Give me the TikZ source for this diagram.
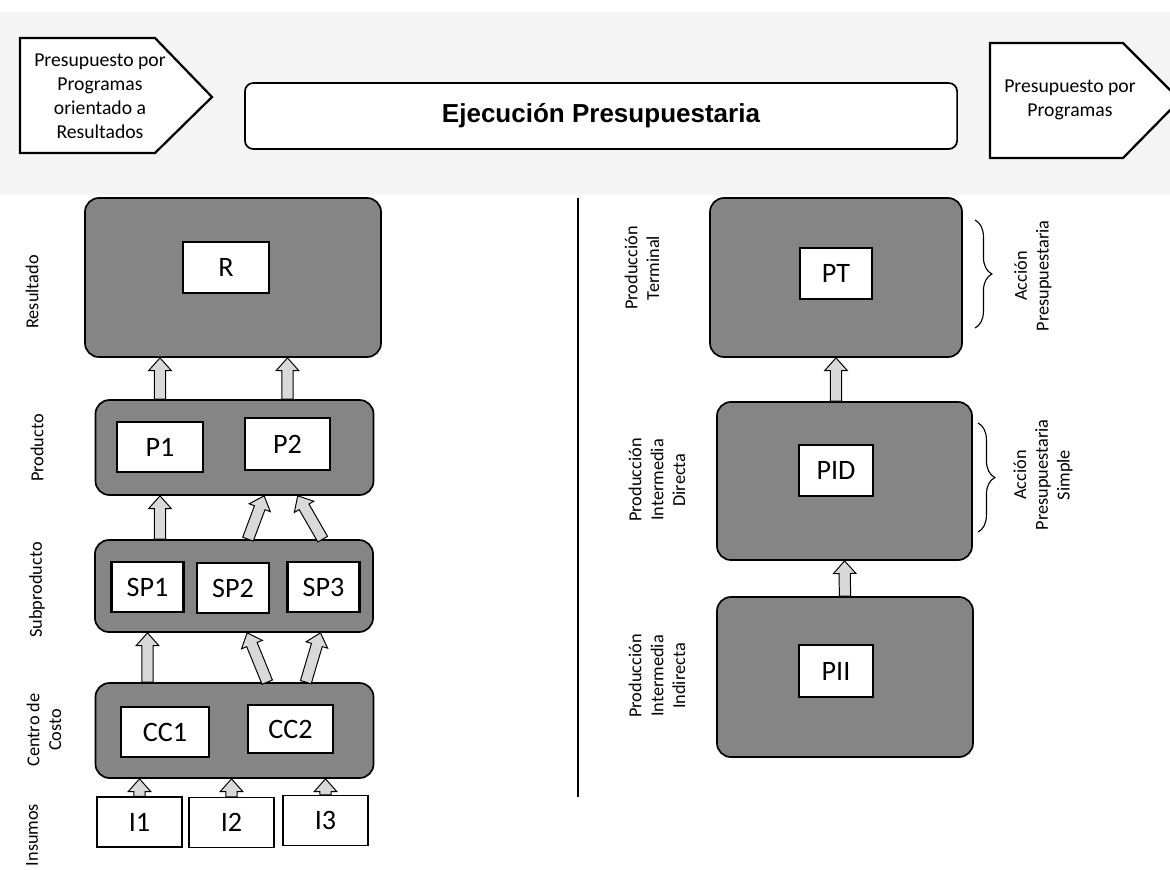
\documentclass[tikz,border=0pt]{standalone}
\usepackage{fontspec}
\setmainfont{Carlito}
\newfontfamily\titlefont{Liberation Sans}
\usetikzlibrary{positioning,calc,decorations.pathreplacing}
\tikzset{
  group/.style={draw, line width=1.2pt, fill=black!48, rounded corners=10pt, inner sep=0pt},
  item/.style={draw, line width=1.8pt, fill=white, inner sep=0pt, font=\fontsize{20}{24}\selectfont},
  input/.style={item, line width=1pt},
  side/.style={rotate=90, align=center, font=\fontsize{13}{15.5}\selectfont},
  penta/.style={draw, line width=1.6pt, fill=white, line join=miter},
  pentatext/.style={align=center, font=\fontsize{14}{17}\selectfont},
  titlebox/.style={draw, line width=1.2pt, fill=white, rounded corners=6pt,
    font=\titlefont\bfseries\fontsize{18.5}{22}\selectfont},
  fat/.style={draw=black, line width=0.7pt, fill=black!15, line join=miter,
    to path={($(\tikztostart)!4pt!90:(\tikztotarget)$)
      -- ($(\tikztotarget)!9pt!(\tikztostart)!4pt!90:(\tikztotarget)$)
      -- ($(\tikztotarget)!9pt!(\tikztostart)!8pt!90:(\tikztotarget)$)
      -- (\tikztotarget)
      -- ($(\tikztotarget)!9pt!(\tikztostart)!8pt!-90:(\tikztotarget)$)
      -- ($(\tikztotarget)!9pt!(\tikztostart)!4pt!-90:(\tikztotarget)$)
      -- ($(\tikztostart)!4pt!-90:(\tikztotarget)$) -- cycle}},
  brc/.style={decorate, decoration={brace, amplitude=12pt}, line width=0.8pt}
}
\begin{document}
\begin{tikzpicture}[x=0.025cm, y=-0.025cm]
\useasboundingbox (0,0) rectangle (1170,869);
\fill[black!4] (0,12) rectangle (1170,195);

\draw[penta] (20,38) -- (155,38) -- (212,97) -- (155,153) -- (20,153) -- cycle;
\node[pentatext] (ppr) at (100,96) {Presupuesto por\\Programas\\orientado a\\Resultados};
\node[titlebox, minimum width=17.8cm, minimum height=1.65cm] (ejec) at (601,116) {Ejecución Presupuestaria};
\draw[penta] (990,43) -- (1123,43) -- (1180,100) -- (1123,158) -- (990,158) -- cycle;
\node[pentatext] (pp) at (1070,100) {Presupuesto por\\Programas};

\node[group, minimum width=7.4cm, minimum height=3.975cm] (res) at (233,277.5) {};
\node[group, minimum width=6.95cm, minimum height=2.375cm] (prod) at (234.5,447.5) {};
\node[group, minimum width=6.95cm, minimum height=2.3cm] (sub) at (234,586) {};
\node[group, minimum width=6.95cm, minimum height=2.375cm] (cc) at (234.5,730.5) {};

\node[item, minimum width=2.15cm, minimum height=1.275cm] (R) at (226,267.5) {R};
\node[item, minimum width=2.15cm, minimum height=1.25cm] (P1) at (160,447) {P1};
\node[item, minimum width=2.125cm, minimum height=1.3cm] (P2) at (287.5,444) {P2};
\node[item, minimum width=1.8cm, minimum height=1.25cm] (SP1) at (147.5,587) {SP1};
\node[item, minimum width=1.8cm, minimum height=1.25cm] (SP2) at (233,588) {SP2};
\node[item, minimum width=1.8cm, minimum height=1.25cm] (SP3) at (323.5,587) {SP3};
\node[item, minimum width=2.2cm, minimum height=1.25cm] (CC1) at (165,732) {CC1};
\node[item, minimum width=2.125cm, minimum height=1.2cm] (CC2) at (290.5,729) {CC2};
\node[input, minimum width=2.125cm, minimum height=1.25cm] (I1) at (139.5,822) {I1};
\node[input, minimum width=2.125cm, minimum height=1.25cm] (I2) at (231.5,822.5) {I2};
\node[input, minimum width=2.125cm, minimum height=1.25cm] (I3) at (325.5,820.5) {I3};

\coordinate (sp2a) at ($(sub.north west)!.55!(sub.north east)$);
\coordinate (sp2b) at ($(prod.south west)!.606!(prod.south east)$);
\coordinate (sp3a) at ($(sub.north west)!.817!(sub.north east)$);
\coordinate (sp3b) at ($(prod.south west)!.726!(prod.south east)$);
\coordinate (cc2a) at ($(cc.north west)!.617!(cc.north east)$);
\coordinate (cc2b) at ($(sub.south west)!.547!(sub.south east)$);
\coordinate (cc3a) at ($(cc.north west)!.755!(cc.north east)$);
\coordinate (cc3b) at ($(sub.south west)!.809!(sub.south east)$);

\draw[fat] (prod.north -| P1) to (res.south -| P1);
\draw[fat] (prod.north -| P2) to (res.south -| P2);
\draw[fat] (sub.north -| P1) to (prod.south -| P1);
\draw[fat] (sp2a) to (sp2b);
\draw[fat] (sp3a) to (sp3b);
\draw[fat] (cc.north -| SP1) to (sub.south -| SP1);
\draw[fat] (cc2a) to (cc2b);
\draw[fat] (cc3a) to (cc3b);
\draw[fat] (I1.north) to (cc.south -| I1);
\draw[fat] (I2.north) to (cc.south -| I2);
\draw[fat] (I3.north) to (cc.south -| I3);

\node[side] (lres) at (32,292) {Resultado};
\node[side] (lprod) at (37,448) {Producto};
\node[side] (lsub) at (37,590) {Subproducto};
\node[side] (lcc) at (44,730) {Centro de\\Costo};
\node[side] (lins) at (32,835) {Insumos};

\draw[line width=0.8pt] (578,198) -- (578,797);

\node[group, minimum width=6.3cm, minimum height=3.975cm] (tbox) at (836,277.5) {};
\node[group, minimum width=6.375cm, minimum height=3.95cm] (dbox) at (844.5,481) {};
\node[group, minimum width=6.4cm, minimum height=4cm] (ibox) at (845,677) {};
\node[item, minimum width=1.8cm, minimum height=1.275cm] (PT) at (836,273.5) {PT};
\node[item, minimum width=1.85cm, minimum height=1.275cm] (PID) at (836,470.5) {PID};
\node[item, minimum width=1.85cm, minimum height=1.3cm] (PII) at (836,671) {PII};

\draw[fat] (dbox.north -| PT) to (tbox.south -| PT);
\draw[fat] (ibox.north) to (dbox.south);

\node[side] (lpt) at (642,268) {Producción\\Terminal};
\node[side] (lpid) at (657,480) {Producción\\Intermedia\\Directa};
\node[side] (lpii) at (657,676) {Producción\\Intermedia\\Indirecta};

\draw[brc] (975,220) -- (975,328);
\draw[brc] (978,423) -- (978,532);
\node[side] (lap) at (1033,276) {Acción\\Presupuestaria};
\node[side] (laps) at (1043,475) {Acción\\Presupuestaria\\Simple};
\end{tikzpicture}
\end{document}
